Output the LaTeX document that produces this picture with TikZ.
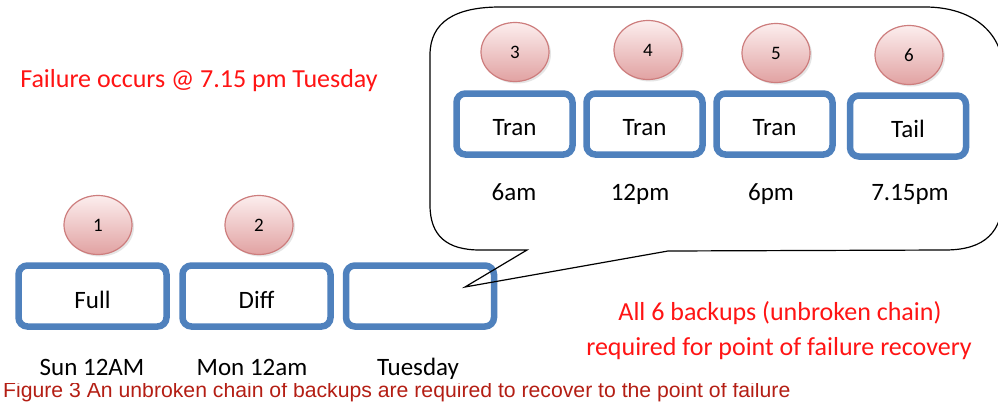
\documentclass[tikz,border=0pt]{standalone}
\usepackage{fontspec}
\setmainfont{Carlito}
\newfontfamily\arialfont{Liberation Sans}
\usetikzlibrary{shapes.geometric,shadows}
\definecolor{boxblue}{RGB}{79,129,189}
\definecolor{ballline}{RGB}{205,125,125}
\definecolor{balltop}{RGB}{252,238,238}
\definecolor{ballbot}{RGB}{225,162,162}
\definecolor{capred}{RGB}{180,30,20}
\definecolor{txtred}{RGB}{255,20,20}
\tikzset{
  bkbox/.style={draw=boxblue, line width=6.5pt, rounded corners=9pt,
    minimum width=148pt, minimum height=61pt, font=\fontsize{25}{30}\selectfont, inner sep=0pt,
    text height=26pt, text depth=2pt},
  bkboxs/.style={bkbox, minimum width=116pt, minimum height=61pt, text height=24pt, text depth=2pt},
  ball/.style={ellipse, draw=ballline, line width=1.2pt, top color=balltop, bottom color=ballbot,
    minimum width=68pt, minimum height=59pt, inner sep=0pt, font=\fontsize{19}{22}\selectfont,
    drop shadow={shadow xshift=2pt, shadow yshift=-2pt, fill=black!25, opacity=0.4}},
  lbl/.style={font=\fontsize{25}{30}\selectfont, inner sep=0pt, anchor=base},
  redtxt/.style={font=\fontsize{26}{30}\selectfont, text=txtred, inner sep=0pt, anchor=base},
  callout/.style={draw=black, line width=1.2pt, line join=miter}
}
\begin{document}
\begin{tikzpicture}[x=1pt, y=-1pt]
\useasboundingbox (0,0) rectangle (998,402);
\fill[white] (0,0) rectangle (998,402);
% caption, clipped at top
\begin{scope}
  \clip (0,383.5) rectangle (998,402);
  \node[anchor=base west, inner sep=0pt, font=\arialfont\fontsize{21.2}{24}\selectfont, text=capred] (cap) at (3,397)
    {Figure 3 An unbroken chain of backups are required to recover to the point of failure};
\end{scope}
% bottom row
\node[bkbox] (full) at (92.5,296) {Full};
\node[bkbox] (diff) at (256.5,296) {Diff};
\node[bkbox] (tue) at (420,296) {};
\node[ball] (b1) at (98,225) {1};
\node[ball] (b2) at (259,225) {2};
\node[lbl] (l1) at (92,375) {Sun 12AM};
\node[lbl] (l2) at (252,375) {Mon 12am};
\node[lbl] (l3) at (418,375) {Tuesday};
% top row
\node[bkboxs] (t1) at (514.5,124) {Tran};
\node[bkboxs] (t2) at (644.5,124) {Tran};
\node[bkboxs] (t3) at (774.5,124) {Tran};
\node[bkboxs] (t4) at (908,126) {Tail};
\node[ball] (b3) at (515,52) {3};
\node[ball] (b4) at (648,50) {4};
\node[ball] (b5) at (776,53) {5};
\node[ball] (b6) at (909,55) {6};
\node[lbl] (s1) at (514,200) {6am};
\node[lbl] (s2) at (640,200) {12pm};
\node[lbl] (s3) at (771,200) {6pm};
\node[lbl] (s4) at (910,200) {7.15pm};
% callout (drawn over the boxes)
\draw[callout] (430,55) .. controls (430,22) and (455,7) .. (500,7) -- (925,7)
  .. controls (975,7) and (1003,35) .. (1003,70) -- (1003,195)
  .. controls (1003,232) and (985,250) .. (945,250) -- (668,251) -- (465,287) -- (527,250)
  -- (480,250) .. controls (447,250) and (430,236) .. (430,205) -- cycle;
% red texts
\node[redtxt] (fail) at (199,87) {Failure occurs @ 7.15 pm Tuesday};
\node[redtxt] (all1) at (780,320) {All 6 backups (unbroken chain)};
\node[redtxt] (all2) at (779,355) {required for point of failure recovery};
\end{tikzpicture}
\end{document}
